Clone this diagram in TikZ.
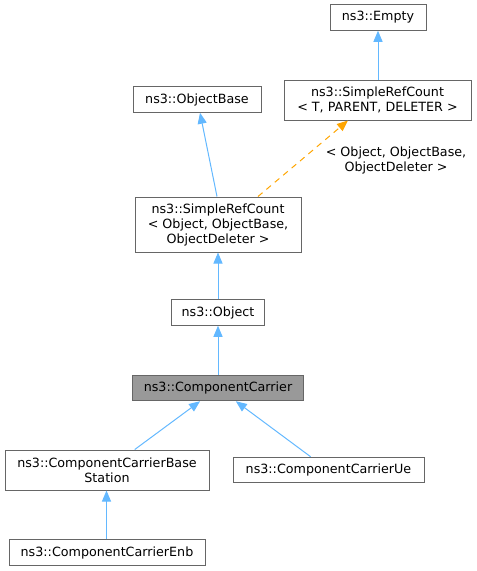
\documentclass[tikz,border=0pt]{standalone}
\usepackage{fontspec}
\setmainfont{DejaVu Sans}
\usepackage{tikz}
\usetikzlibrary{arrows.meta}

\definecolor{edgeblue}{HTML}{63B8FF}
\definecolor{tmplorange}{HTML}{FFA500}
\definecolor{boxgray}{HTML}{666666}
\definecolor{hlgray}{HTML}{999999}

\begin{document}
\begin{tikzpicture}[x=1pt, y=-1pt,
		class_style/.style={rectangle,draw=boxgray,fill=white,line width=1pt,align=center,inner sep=0pt,
			font=\fontsize{12.7}{15}\selectfont,minimum height=25.5pt},
		edge_style/.style={draw=edgeblue,line width=1pt,-{Triangle[length=11pt,width=9pt]}},
		tmpl_style/.style={draw=tmplorange,line width=1pt,dash pattern=on 6pt off 5pt,-{Triangle[length=11pt,width=9pt]}}]
		
		\useasboundingbox (0,0) rectangle (477,571);
		
		\node[class_style, minimum width=96pt] (empty) at (378,17.5)  {ns3::Empty};
		\node[class_style, minimum width=187pt, minimum height=40pt] (srcT) at (377.5,100)  {ns3::SimpleRefCount\\< T, PARENT, DELETER >};
		\node[class_style, minimum width=128pt] (objbase) at (197,99.5)  {ns3::ObjectBase};
		\node[class_style, minimum width=166pt, minimum height=55pt] (srcObj) at (218,224.5)  {ns3::SimpleRefCount\\< Object, ObjectBase,\\ObjectDeleter >};
		\node[class_style, minimum width=93pt] (object) at (218,312.5)  {ns3::Object};
		\node[class_style, minimum width=171pt, fill=hlgray] (cc) at (218,388)  {ns3::ComponentCarrier};
		\node[class_style, minimum width=204pt, minimum height=40pt] (ccbs) at (107,470)  {ns3::ComponentCarrierBase\\Station};
		\node[class_style, minimum width=191pt] (ccue) at (328.5,470)  {ns3::ComponentCarrierUe};
		\node[class_style, minimum width=196pt] (ccenb) at (107,552.5)  {ns3::ComponentCarrierEnb};
		
		\node[font=\fontsize{12.7}{15}\selectfont, align=center] (tmplargs) at (396,160) {< Object, ObjectBase,\\ObjectDeleter >};
		
		\draw[edge_style]  ([xshift=0.5pt]srcT.north) -- (empty.south);
		\draw[tmpl_style]  ([xshift=40pt]srcObj.north) -- ([xshift=-29.5pt]srcT.south);
		\draw[edge_style]  ([xshift=-1pt]srcObj.north) -- ([xshift=3pt]objbase.south);
		\draw[edge_style]  (object.north) -- (srcObj.south);
		\draw[edge_style]  (cc.north) -- (object.south);
		\draw[edge_style]  (ccbs) -- (cc);
		\draw[edge_style]  (ccue) -- (cc);
		\draw[edge_style]  ([xshift=-0.5pt]ccenb.north) -- ([xshift=-0.5pt]ccbs.south);
		
\end{tikzpicture}
\end{document}
